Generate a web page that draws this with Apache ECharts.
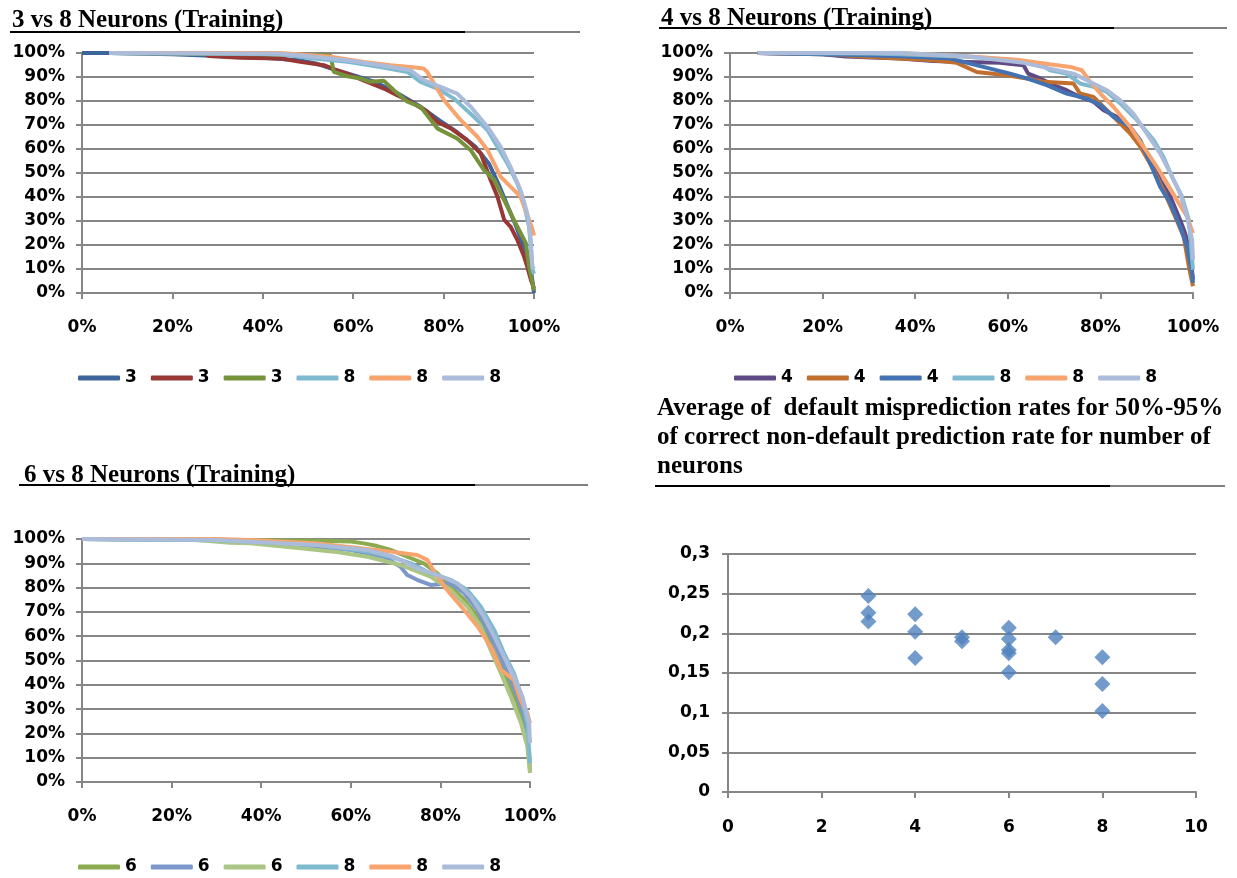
<!DOCTYPE html>
<html>
<head>
<meta charset="utf-8">
<script src="https://cdn.jsdelivr.net/npm/echarts@6/dist/echarts.min.js"></script>
<style>
  html, body { margin: 0; padding: 0; background: #fff; }
  #chart { width: 1237px; height: 878px; }
</style>
</head>
<body>
<div id="chart"></div>
<script>
// ---- Panel titles ----
const titles = [
  '3 vs 8 Neurons (Training)',
  '4 vs 8 Neurons (Training)',
  '6 vs 8 Neurons (Training)',
  'Average of  default misprediction rates for 50%-95%\nof correct non-default prediction rate for number of\nneurons'
];

// ---- Percent axis ticks (x and y of the three curve panels) ----
const xPctTicks = [0, 20, 40, 60, 80, 100];
const yPctTicks = [0, 10, 20, 30, 40, 50, 60, 70, 80, 90, 100];

// ---- Panel 1: 3 vs 8 neurons, [non-default rate %, default rate %] ----
const p1_3a = [[0,100],[6,100],[20,99.5],[30,98.7],[40,98],[48,97],[52,95.5],[56,93],[60,90.8],[65,87.8],[70,83],[75,77.5],[79,72],[83,67],[87,61],[90,54],[92,46],[94,37],[96,28],[98,18],[99.3,10],[100,0]];
const p1_3b = [[6,100],[27,100],[28,98.7],[35,98],[44,97.7],[48.3,96.3],[53.5,94.9],[55.7,93.3],[58.7,91.4],[63.1,88],[66.8,85.2],[69.7,82.4],[72.7,79.7],[76.4,75.5],[78.6,71.3],[81.6,68.6],[85.2,63.7],[88.2,58.2],[90.4,47.1],[91.9,40.2],[93.4,30.5],[94.8,27.7],[96.3,22.2],[97.8,15.2],[98.5,11.1],[99.3,5.5],[100,2]];
const p1_3c = [[6,100],[40,99.5],[55,99],[55.7,92.1],[58.7,90.3],[61.6,89.4],[63.8,88],[66.8,88.4],[69,84.5],[72,79.7],[74.9,77.6],[78.6,68.6],[83,64.4],[86,59.5],[88.9,51.3],[91.2,47.1],[94.1,36],[96.3,27.7],[98.2,20.8],[98.9,11.1],[100,1]];
const p1_8a = [[6,100],[30,99.8],[43.9,99.5],[51.3,97.7],[58.7,96.3],[66,94.2],[72,92.1],[74.9,88],[78.6,85.2],[82.3,81],[86.7,73.4],[89.7,67.9],[91.9,61],[94.1,54],[96.3,45.7],[97.4,40.2],[98.9,27.7],[99.7,9.7],[100,8]];
const p1_8b = [[6,100],[43.9,100],[55,98.4],[62.4,96.3],[68.3,94.9],[72.7,94.2],[75.6,93.5],[76.4,92.1],[77.9,87.3],[80.1,80.3],[83.8,72],[87.5,65.1],[89.7,59.6],[92.6,48.5],[94.8,44.3],[97,40.2],[98.9,30.5],[99.6,27],[100,24]];
const p1_8c = [[6,100],[43.9,99.7],[51.3,98.4],[58.7,97],[66,94.9],[72.7,92.8],[75.6,88.7],[79.3,85.9],[83,83.1],[86,77.6],[89.7,69.3],[92.6,61],[94.8,52.6],[97,43],[98.5,33.3],[99.3,22.2],[99.6,11.1],[100,10]];

// ---- Panel 2: 4 vs 8 neurons ----
const p2_4a = [[6,100],[20,99.5],[25,98.5],[36.7,97.7],[43.9,96.7],[51.1,96.3],[58.3,95.9],[63.4,94.9],[64.4,91.4],[67,89.4],[69.9,86.6],[72.7,84.5],[75.6,81.7],[78.5,79.7],[80.7,76.2],[83.5,73.4],[85.7,69.3],[88.6,62.3],[90.8,55.4],[92.9,47.1],[95.1,40.2],[97.2,30.5],[98.3,24.9],[99.4,16.6],[100,5.5]];
const p2_4b = [[6,100],[22,99.5],[28,98.5],[36.7,97.7],[43.9,97],[49,95.9],[53.3,92.1],[59.8,90.7],[64.1,89.4],[67.7,88],[74.2,87.3],[75.6,83.1],[78.5,81.7],[81.4,76.2],[84.3,70.6],[86.4,66.5],[88.6,61],[91.5,51.3],[93.6,43],[95.8,33.3],[98,23.5],[99.1,11.1],[100,2.8]];
const p2_4c = [[6,100],[25,99.3],[36.7,98.6],[47.5,97.7],[54.7,94.2],[60.5,91.4],[64.1,89.4],[68.4,86.6],[72.7,83.1],[77.1,81],[80,78.3],[82.8,73.4],[86.4,69.3],[88.6,63.7],[90.8,54],[92.9,44.3],[95.1,37.4],[97.2,27.7],[98.7,19.4],[99.8,8.3],[100,4.2]];
const p2_8a = [[6,100],[30,99.8],[36.7,99.5],[51.1,98.4],[61.9,97],[67,95.6],[69.1,92.8],[72.7,91.4],[75.6,87.3],[78.5,85.9],[81.4,83.8],[84.3,79],[87.9,72],[91.5,63.7],[93.6,56.8],[95.8,47.1],[97.6,40.2],[99.1,30.5],[100,9.7]];
const p2_8b = [[6,100],[36.7,100],[51.1,98.6],[61.9,97.2],[69.1,95.3],[73.5,94.2],[76,92.8],[77.8,88],[80,83.1],[82.8,77.6],[86.4,69.3],[89.3,61],[92.2,52.6],[94.4,45.7],[96.5,38.8],[98.7,31.9],[100,24.9]];
const p2_8c = [[6,100],[36.7,100],[51.1,98.6],[63.4,95.9],[69.1,93.5],[74.2,91.4],[78.5,87.3],[81.4,84.5],[84.3,80.3],[87.1,74.8],[90,66.5],[92.9,58.2],[95.1,49.9],[97.2,41.6],[98.7,31.9],[99.8,22.2],[100,13.9]];

// ---- Panel 3: 6 vs 8 neurons ----
const p3_6a = [[0,100],[40,99.5],[55,99.2],[60,99],[62.9,98.2],[65.9,97.1],[68.9,95.5],[72.6,92.7],[76.3,90],[79.3,85.9],[82.3,80.4],[85.3,75],[88.3,68.1],[90.5,59.9],[92.7,50.3],[95,42],[97.2,32.5],[98.7,22.9],[99.8,11.9],[100,4]];
const p3_6b = [[0,100],[30,99.5],[37.6,98.9],[48.8,97.5],[60,95.5],[67.4,92.7],[71.1,88.6],[72.6,85.2],[74.8,83.2],[77.8,81.1],[82.3,81.8],[85.3,77.7],[88.3,70.8],[90.5,62.6],[92.7,54.4],[95,44.8],[97.2,35.2],[98.7,27],[100,16]];
const p3_6c = [[0,100],[25,99.7],[33,98.5],[37.6,98.2],[48.8,96.2],[56.2,94.8],[63.7,92.7],[71.1,89.3],[77.8,84.5],[82.3,79],[86,72.2],[89,64],[91.2,54.4],[93.5,44.8],[95.7,35.2],[98,24.2],[99.4,14.7],[100,3.7]];
const p3_8a = [[0,100],[30,99.5],[37.6,98.9],[52.5,97.5],[63.7,94.8],[68.9,92.7],[73.4,90],[77.8,85.9],[82.3,83.2],[86,79],[89,72.2],[92,62.6],[94.2,53],[96.4,44.8],[97.9,36.6],[99.4,24.2],[100,7.8]];
const p3_8b = [[0,100],[30,100],[37.6,99.6],[52.5,98.2],[62.2,96.2],[68.9,94.8],[74.8,93.4],[77.1,91.4],[78.6,86.6],[81.5,79],[85.3,70.8],[88.3,64],[91.2,55.8],[93.5,46.2],[96.4,42],[97.9,33.8],[99.4,28.4],[100,24.2]];
const p3_8c = [[0,100],[30,99.6],[37.6,98.9],[52.5,97.5],[63.7,95.5],[69.6,92.7],[74.8,87.9],[79.3,85.2],[83.8,81.8],[86.8,76.3],[89.7,68.1],[92,59.9],[94.2,51.6],[96.4,43.4],[98.3,35.2],[99.8,24.2],[100,16]];

// ---- Panel 4: average default misprediction rate by number of neurons ----
const neurons = [3, 3, 3, 4, 4, 4, 5, 5, 6, 6, 6, 6, 6, 7, 8, 8, 8];
const avgRates = [0.247, 0.226, 0.215, 0.224, 0.202, 0.169, 0.195, 0.190, 0.207, 0.193, 0.179, 0.175, 0.151, 0.195, 0.170, 0.136, 0.102];
const neuronTicks = [0, 2, 4, 6, 8, 10];
const rateTicks = [0, 0.05, 0.1, 0.15, 0.2, 0.25, 0.3];

// ---- Series lists per panel: [legend label, data, colour] ----
const panel1 = [['3', p1_3a, '#3D659B'], ['3', p1_3b, '#973836'], ['3', p1_3c, '#76933C'], ['8', p1_8a, '#7EBACF'], ['8', p1_8b, '#F8A46E'], ['8', p1_8c, '#AABCDA']];
const panel2 = [['4', p2_4a, '#604A86'], ['4', p2_4b, '#C06F2E'], ['4', p2_4c, '#4372B2'], ['8', p2_8a, '#7EBACF'], ['8', p2_8b, '#F8A46E'], ['8', p2_8c, '#AABCDA']];
const panel3 = [['6', p3_6a, '#8CAA4F'], ['6', p3_6b, '#7C97C9'], ['6', p3_6c, '#ABC584'], ['8', p3_8a, '#7EBACF'], ['8', p3_8b, '#F8A46E'], ['8', p3_8c, '#AABCDA']];

const LABEL_FONT = '"DejaVu Sans", Verdana, sans-serif';
const TITLE_FONT = '"Liberation Serif", "Times New Roman", serif';
const GRID_GREY = '#868686';

const grids = [
  { left: 82, top: 53, width: 452, height: 240 },
  { left: 730, top: 53, width: 463, height: 240 },
  { left: 82, top: 539, width: 448, height: 243 },
  { left: 728, top: 554, width: 468, height: 238 }
];

const labelStyle = { color: '#000', fontFamily: LABEL_FONT, fontWeight: 'bold', fontSize: 17 };

function pctX(i) {
  return {
    type: 'value', gridIndex: i, min: xPctTicks[0], max: xPctTicks[xPctTicks.length - 1],
    interval: xPctTicks[1] - xPctTicks[0],
    axisLine: { show: true, lineStyle: { color: GRID_GREY, width: 2 } },
    axisTick: { show: true, length: 6, lineStyle: { color: GRID_GREY, width: 2 } },
    axisLabel: Object.assign({ margin: 26, formatter: '{value}%' }, labelStyle),
    splitLine: { show: false }
  };
}
function pctY(i) {
  return {
    type: 'value', gridIndex: i, min: yPctTicks[0], max: yPctTicks[yPctTicks.length - 1],
    interval: yPctTicks[1] - yPctTicks[0],
    axisLine: { show: true, lineStyle: { color: GRID_GREY, width: 2 } },
    axisTick: { show: true, length: 6, lineStyle: { color: GRID_GREY, width: 2 } },
    axisLabel: Object.assign({ margin: 17, formatter: '{value}%' }, labelStyle),
    splitLine: { show: true, lineStyle: { color: GRID_GREY, width: 2 } }
  };
}

const xAxes = [pctX(0), pctX(1), pctX(2), {
  type: 'value', gridIndex: 3, min: neuronTicks[0], max: neuronTicks[neuronTicks.length - 1],
  interval: neuronTicks[1] - neuronTicks[0],
  axisLine: { show: true, onZero: false, lineStyle: { color: GRID_GREY, width: 2 } },
  axisTick: { show: true, length: 6, lineStyle: { color: GRID_GREY, width: 2 } },
  axisLabel: Object.assign({ margin: 27 }, labelStyle),
  splitLine: { show: false }
}];
const yAxes = [pctY(0), pctY(1), pctY(2), {
  type: 'value', gridIndex: 3, min: rateTicks[0], max: rateTicks[rateTicks.length - 1],
  interval: rateTicks[1] - rateTicks[0],
  axisLine: { show: true, lineStyle: { color: GRID_GREY, width: 2 } },
  axisTick: { show: true, length: 6, lineStyle: { color: GRID_GREY, width: 2 } },
  axisLabel: Object.assign({ margin: 18, formatter: v => String(+v.toFixed(2)).replace('.', ',') }, labelStyle),
  splitLine: { show: true, lineStyle: { color: GRID_GREY, width: 2 } }
}];

const series = [];
const legends = [];
const legendPos = [{ left: 78, top: 368 }, { left: 734, top: 368 }, { left: 78, top: 857 }];
[panel1, panel2, panel3].forEach((panel, p) => {
  const names = [];
  panel.forEach(([label, data, color], k) => {
    const name = 'p' + (p + 1) + '|' + label + '|' + k;
    names.push(name);
    series.push({
      name, type: 'line', xAxisIndex: p, yAxisIndex: p, data,
      showSymbol: false, symbol: 'none', smooth: false,
      lineStyle: { color, width: 4 }, itemStyle: { color },
      emphasis: { disabled: true }, animation: false
    });
  });
  legends.push(Object.assign({
    data: names, orient: 'horizontal', padding: 0, itemGap: 14,
    itemWidth: 42, itemHeight: 5, icon: 'roundRect',
    formatter: n => n.split('|')[1],
    textStyle: Object.assign({ lineHeight: 20, padding: [0, 0, 0, 0] }, labelStyle),
    selectedMode: false
  }, legendPos[p]));
});

series.push({
  name: 'avg', type: 'scatter', xAxisIndex: 3, yAxisIndex: 3,
  data: neurons.map((n, i) => [n, avgRates[i]]),
  symbol: 'diamond', symbolSize: 16,
  itemStyle: { color: '#4F81BD' }, animation: false
});

const titleStyle = { color: '#000', fontFamily: TITLE_FONT, fontWeight: 'bold', fontSize: 25 };

// Underlines beneath each panel heading: black run, then a grey continuation
function rule(x1, xMid, x2, y) {
  return [
    { type: 'line', shape: { x1, y1: y, x2: xMid, y2: y }, style: { stroke: '#000', lineWidth: 2 } },
    { type: 'line', shape: { x1: xMid, y1: y, x2, y2: y }, style: { stroke: '#808080', lineWidth: 2 } }
  ];
}

const option = {
  backgroundColor: '#fff',
  title: [
    { text: titles[0], left: 12, top: 8, padding: 0, textStyle: titleStyle },
    { text: titles[1], left: 661, top: 6, padding: 0, textStyle: titleStyle },
    { text: titles[2], left: 24, top: 463, padding: 0, textStyle: titleStyle },
    { text: titles[3], left: 657, top: 394, padding: 0, textStyle: Object.assign({}, titleStyle, { lineHeight: 29 }) }
  ],
  grid: grids,
  xAxis: xAxes,
  yAxis: yAxes,
  legend: legends,
  series,
  graphic: [].concat(
    rule(10, 465, 580, 32),
    rule(659, 1114, 1227, 28),
    rule(19, 475, 588, 485),
    rule(655, 1110, 1225, 486)
  )
};

const chart = echarts.init(document.getElementById('chart'), null, { renderer: 'canvas' });
chart.setOption(option);
</script>
</body>
</html>
